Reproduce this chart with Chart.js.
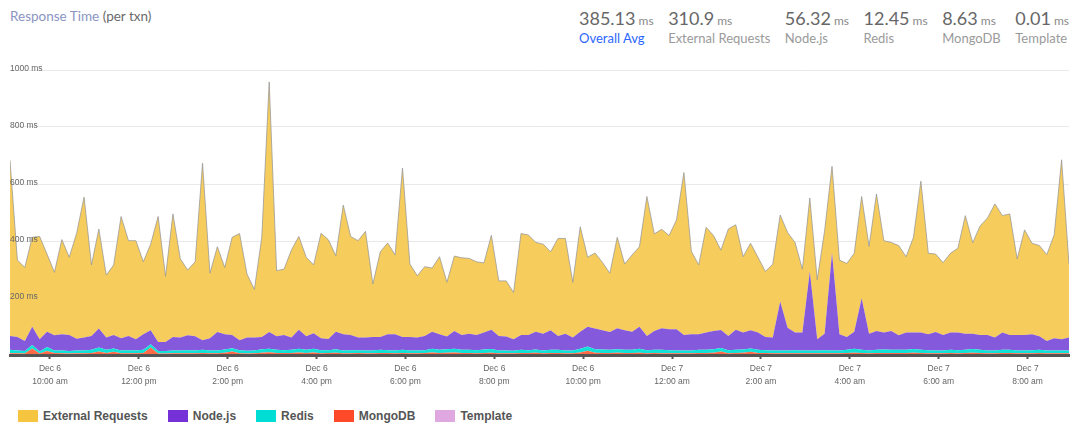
<!DOCTYPE html>
<html>
<head>
<meta charset="utf-8">
<script src="https://cdn.jsdelivr.net/npm/chart.js@4/dist/chart.umd.min.js"></script>
<style>
  body { margin: 0; width: 1080px; height: 428px; background: #fff; font-family: Lato, "Open Sans", sans-serif; overflow: hidden; position: relative; }
  #title { position: absolute; left: 10px; top: 8px; font-size: 13.5px; }
  #title .t { color: #8a94c2; }
  #title .s { color: #6a6a6a; }
  #stats { position: absolute; top: 8px; right: 11px; display: flex; gap: 14.5px; }
  .stat .num { font-size: 18px; color: #676767; line-height: 20px; white-space: nowrap; }
  .stat .num small { font-size: 12px; color: #8a8a8a; }
  .stat .lbl { font-size: 13px; color: #9a9a9a; line-height: 14px; white-space: nowrap; }
  .stat.main .lbl { color: #2a66ff; }
  #chart-wrap { position: absolute; left: 0; top: 50px; width: 1080px; height: 345px; }
  #legend { position: absolute; left: 18px; top: 409px; display: flex; font-family: "Liberation Sans", Arial, sans-serif; font-weight: bold; font-size: 12px; color: #555; }
  #legend .item { display: flex; align-items: center; margin-right: 20px; }
  #legend .box { width: 20px; height: 12px; margin-right: 5px; }
</style>
</head>
<body>
<div id="title"><span class="t">Response Time</span> <span class="s">(per txn)</span></div>
<div id="stats"></div>
<div id="chart-wrap"><canvas id="chart" width="1080" height="345"></canvas></div>
<div id="legend"></div>

<script>
// header numbers
const statLabels = ['Overall Avg', 'External Requests', 'Node.js', 'Redis', 'MongoDB', 'Template']
const statValues = ['385.13', '310.9', '56.32', '12.45', '8.63', '0.01']

// x axis: one point every 10 minutes, first one Dec 6 9:06 am (minutes from Dec 6 00:00)
const startMinute = 546
const stepMinutes = 10
const tickMinutes = [600, 720, 840, 960, 1080, 1200, 1320, 1440, 1560, 1680, 1800, 1920]
const tickLabels = [
  ['Dec 6', '10:00 am'], ['Dec 6', '12:00 pm'], ['Dec 6', '2:00 pm'], ['Dec 6', '4:00 pm'],
  ['Dec 6', '6:00 pm'], ['Dec 6', '8:00 pm'], ['Dec 6', '10:00 pm'], ['Dec 7', '12:00 am'],
  ['Dec 7', '2:00 am'], ['Dec 7', '4:00 am'], ['Dec 7', '6:00 am'], ['Dec 7', '8:00 am']
]

// series (ms per txn), legend order
const seriesNames = ['External Requests', 'Node.js', 'Redis', 'MongoDB', 'Template']
const legendColors = ['#f5c540', '#7530d8', '#00ddd5', '#ff4a2a', '#e0a8e0']
const fillColors = ['#f6cd5c', '#8559db', '#10e2d7', '#ff6a48', '#e0a8e0']

const externalMs = [
  616, 270, 258, 314, 361, 272, 221, 332, 273, 370, 493, 249, 349, 219, 246, 427,
  334, 346, 254, 302, 440, 230, 432, 276, 229, 261, 621, 228, 299, 234, 343, 374,
  223, 169, 350, 877, 230, 231, 307, 327, 277, 240, 368, 348, 266, 453, 346, 340,
  373, 186, 299, 320, 278, 593, 256, 217, 243, 223, 272, 190, 263, 271, 264, 257,
  244, 331, 193, 195, 164, 356, 351, 313, 314, 275, 342, 334, 194, 368, 244, 265,
  238, 206, 319, 232, 269, 281, 489, 341, 347, 329, 384, 570, 291, 243, 369, 335,
  280, 375, 368, 266, 305, 264, 230, 258, 303, 334, 316, 222, 258, 209, 361, 304,
  260, 258, 275, 357, 306, 481, 322, 311, 315, 266, 334, 531, 284, 273, 254, 278,
  296, 414, 319, 383, 411, 469, 410, 425, 267, 369, 319, 318, 303, 363, 630, 258
]
const nodeMs = [
  49, 47, 35, 64, 43, 54, 53, 57, 56, 41, 45, 49, 67, 43, 47, 43,
  50, 39, 55, 49, 32, 32, 47, 45, 52, 50, 34, 43, 65, 54, 46, 35,
  46, 45, 43, 59, 48, 53, 43, 67, 48, 54, 42, 39, 62, 57, 53, 44,
  45, 47, 45, 56, 57, 45, 47, 45, 50, 60, 55, 45, 62, 52, 57, 53,
  60, 68, 51, 49, 40, 52, 53, 63, 59, 69, 49, 59, 45, 60, 69, 73,
  68, 63, 74, 69, 64, 77, 50, 66, 76, 73, 74, 54, 57, 55, 61, 64,
  63, 50, 71, 60, 64, 61, 46, 45, 172, 80, 62, 63, 277, 39, 58, 342,
  57, 45, 60, 181, 59, 66, 60, 66, 51, 61, 58, 61, 56, 65, 54, 61,
  62, 57, 54, 52, 54, 45, 61, 52, 54, 54, 56, 48, 33, 43, 39, 45
]
const redisMs = [
  12, 10, 9, 12, 7, 14, 9, 10, 9, 10, 10, 11, 14, 11, 12, 10,
  11, 10, 11, 12, 9, 9, 10, 10, 11, 10, 11, 10, 10, 11, 12, 11,
  10, 10, 12, 12, 11, 10, 11, 13, 11, 13, 11, 10, 12, 10, 11, 10,
  10, 10, 11, 10, 10, 11, 10, 10, 10, 13, 11, 12, 13, 11, 11, 11,
  12, 13, 10, 10, 9, 11, 10, 11, 10, 11, 11, 10, 10, 13, 15, 12,
  12, 11, 12, 11, 11, 14, 11, 11, 12, 11, 10, 10, 10, 11, 11, 12,
  13, 11, 11, 11, 12, 11, 10, 10, 10, 10, 11, 10, 10, 10, 11, 10,
  10, 11, 14, 11, 10, 11, 12, 11, 11, 11, 13, 11, 11, 10, 10, 11,
  11, 11, 13, 11, 10, 10, 11, 11, 10, 10, 11, 11, 10, 10, 10, 10
]
const mongoMs = [
  6, 6, 5, 23, 5, 14, 7, 6, 5, 6, 6, 7, 12, 7, 11, 6,
  6, 6, 7, 26, 5, 5, 6, 6, 6, 6, 7, 6, 6, 8, 12, 6,
  5, 6, 8, 10, 7, 7, 7, 9, 7, 9, 6, 7, 8, 6, 6, 7,
  6, 6, 7, 7, 6, 7, 6, 6, 7, 9, 7, 8, 9, 7, 7, 6,
  7, 8, 6, 6, 6, 7, 7, 8, 6, 7, 7, 6, 6, 9, 15, 8,
  7, 7, 8, 7, 7, 8, 6, 7, 6, 6, 6, 6, 6, 7, 7, 8,
  12, 6, 7, 8, 11, 7, 7, 6, 6, 6, 6, 6, 6, 6, 6, 6,
  6, 7, 8, 7, 6, 7, 7, 7, 7, 7, 8, 7, 6, 6, 6, 7,
  6, 7, 8, 7, 6, 6, 7, 7, 6, 6, 6, 7, 6, 6, 6, 6
]
const templateMs = [
  0, 0, 0, 0.1, 0, 0, 0, 0, 0, 0, 0, 0, 0, 0, 0, 0,
  0, 0, 0, 0.1, 0, 0, 0, 0, 0, 0, 0, 0, 0, 0, 0, 0,
  0, 0, 0, 0, 0, 0, 0, 0, 0, 0, 0, 0, 0, 0, 0, 0,
  0, 0, 0, 0, 0, 0, 0, 0, 0, 0, 0, 0, 0, 0, 0, 0,
  0, 0, 0, 0, 0, 0, 0, 0, 0, 0, 0, 0, 0, 0, 0.1, 0,
  0, 0, 0, 0, 0, 0, 0, 0, 0, 0, 0, 0, 0, 0, 0, 0,
  0, 0, 0, 0, 0, 0, 0, 0, 0, 0, 0, 0, 0, 0, 0, 0,
  0, 0, 0, 0, 0, 0, 0, 0, 0, 0, 0, 0, 0, 0, 0, 0,
  0, 0, 0, 0, 0, 0, 0, 0, 0, 0, 0, 0, 0, 0, 0, 0
]

const yTicks = [200, 400, 600, 800, 1000]

/** header stats */
const statsDiv = document.getElementById('stats')
statLabels.forEach((label, i) => {
  statsDiv.innerHTML += `
    <div class="stat ${i === 0 ? 'main' : ''}">
      <div class="num">${statValues[i]}<small> ms</small></div>
      <div class="lbl">${label}</div>
    </div>`
})

/** legend */
const legendDiv = document.getElementById('legend')
seriesNames.forEach((name, i) => {
  legendDiv.innerHTML += `<div class="item"><span class="box" style="background:${legendColors[i]}"></span>${name}</div>`
})

const times = externalMs.map((v, i) => startMinute + i * stepMinutes)
const toPoints = arr => arr.map((v, i) => ({ x: times[i], y: v }))

// stack from the bottom up: Template, MongoDB, Redis, Node.js, External Requests
const stackOrder = [4, 3, 2, 1, 0]
const seriesValues = [externalMs, nodeMs, redisMs, mongoMs, templateMs]

const datasets = stackOrder.map((s, k) => ({
  label: seriesNames[s],
  data: toPoints(seriesValues[s]),
  backgroundColor: fillColors[s],
  borderColor: s === 0 ? 'rgba(150,150,150,0.75)' : 'rgba(0,0,0,0)',
  borderWidth: s === 0 ? 1 : 0,
  fill: k === 0 ? 'origin' : '-1',
  pointRadius: 0,
  tension: 0
}))

new Chart(document.getElementById('chart'), {
  type: 'line',
  data: { datasets: datasets },
  options: {
    responsive: false,
    animation: false,
    layout: { padding: { left: 10, right: 11, top: 20, bottom: 0 } },
    plugins: { legend: { display: false }, tooltip: { enabled: false } },
    scales: {
      x: {
        type: 'linear',
        min: startMinute,
        max: startMinute + (externalMs.length - 1) * stepMinutes,
        afterBuildTicks: scale => { scale.ticks = tickMinutes.map(v => ({ value: v })) },
        afterFit: scale => { scale.height = 40 },
        ticks: {
          autoSkip: false,
          maxRotation: 0,
          padding: 3,
          color: '#666',
          font: { family: 'Liberation Sans', size: 8.5, lineHeight: 1.55 },
          callback: (v, i) => tickLabels[i]
        },
        grid: { drawOnChartArea: false, drawTicks: true, tickLength: 4, tickColor: '#555', tickWidth: 2 },
        border: { color: '#555', width: 3, z: 1 }
      },
      y: {
        stacked: true,
        min: 0,
        max: 1000,
        afterBuildTicks: scale => { scale.ticks = [0].concat(yTicks).map(v => ({ value: v })) },
        afterFit: scale => { scale.width = 0 },
        ticks: {
          mirror: true,
          padding: 0,
          labelOffset: -1,
          z: 1,
          color: '#666',
          font: { family: 'Liberation Sans', size: 8.5 },
          callback: v => v === 0 ? '' : v + ' ms'
        },
        grid: { color: '#e9e9e9', drawTicks: false },
        border: { display: false }
      }
    }
  }
})
</script>
</body>
</html>
